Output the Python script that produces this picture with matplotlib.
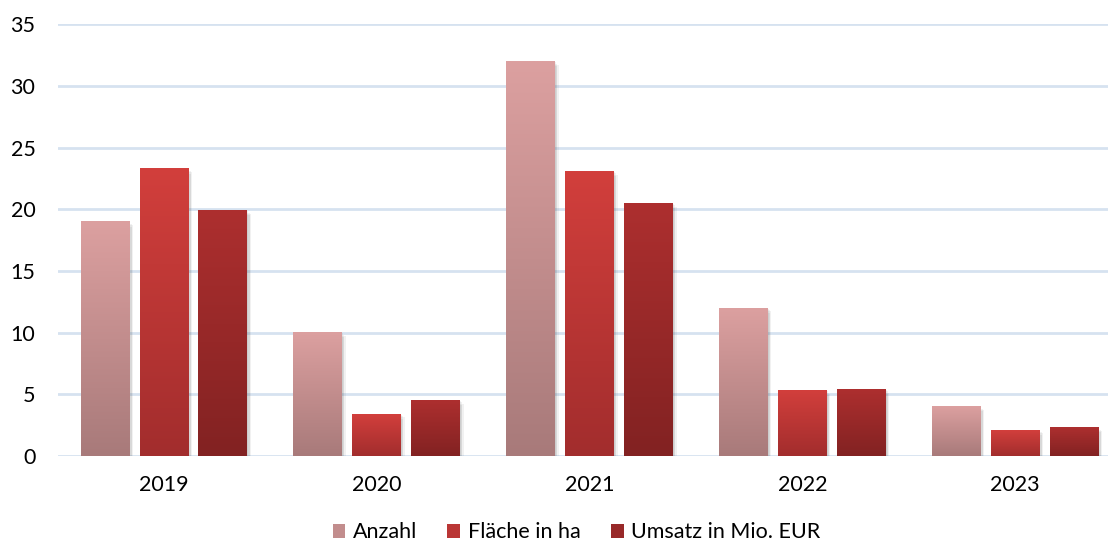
import numpy as np
import matplotlib.pyplot as plt
from matplotlib.colors import LinearSegmentedColormap, to_rgb
from matplotlib.patches import Patch
import matplotlib.patheffects as pe

plt.rcParams['font.family'] = ['Lato', 'DejaVu Sans']

years = ["2019", "2020", "2021", "2022", "2023"]
anzahl = [19, 10, 32, 12, 4]
flaeche = [23.3, 3.4, 23.1, 5.3, 2.1]
umsatz = [19.9, 4.5, 20.5, 5.4, 2.3]

series = [
    ("Anzahl", anzahl, "#dca0a0", "#a87a7a"),
    ("Fläche in ha", flaeche, "#d23f3c", "#a22d2d"),
    ("Umsatz in Mio. EUR", umsatz, "#ad2f2f", "#822222"),
]

fig, ax = plt.subplots(figsize=(11.08, 5.44), dpi=100)
fig.subplots_adjust(left=0.052, right=1.0, top=0.955, bottom=0.162)

x = np.arange(len(years))
width = 0.23
offsets = [-0.277, 0.0, 0.277]

# soft drop shadow built from a few faint offset copies
shadow = [pe.SimplePatchShadow(offset=o, alpha=0.07, shadow_rgbFace="#404040")
          for o in [(0.5, -0.5), (1.5, -1.5), (2.5, -2.5), (1.5, -3.5)]]

gradient = np.linspace(0, 1, 256).reshape(-1, 1)
handles = []
for (label, vals, top, bottom), off in zip(series, offsets):
    cmap = LinearSegmentedColormap.from_list(label, [bottom, top])
    bars = ax.bar(x + off, vals, width, color=top, zorder=2,
                  path_effects=shadow + [pe.Normal()])
    for rect in bars:
        x0, y0 = rect.get_x(), rect.get_y()
        w, h = rect.get_width(), rect.get_height()
        ax.imshow(gradient, cmap=cmap, origin="lower", aspect="auto",
                  extent=(x0, x0 + w, y0, y0 + h), zorder=3)
    mid = tuple((a + b) / 2 for a, b in zip(to_rgb(top), to_rgb(bottom)))
    handles.append(Patch(facecolor=mid, edgecolor="none", label=label))

ax.set_xlim(-0.5, 4.436)
ax.set_ylim(0, 35)
ax.set_yticks(range(0, 36, 5))
ax.set_xticks(x)
ax.set_xticklabels(years)
ax.yaxis.grid(True, color="#d6e2f0", linewidth=2, zorder=0)
ax.set_axisbelow(True)
for s in ax.spines.values():
    s.set_visible(False)
ax.tick_params(axis="both", length=0, labelsize=15.5, colors="#000000")
ax.tick_params(axis="x", pad=14)
ax.tick_params(axis="y", pad=16)

ax.legend(handles=handles, loc="upper center", bbox_to_anchor=(0.494, -0.124),
          ncol=3, frameon=False, fontsize=15.5, handlelength=0.6, handleheight=0.6,
          handletextpad=0.35, columnspacing=1.4, borderpad=0.1)

fig.savefig("out.png", dpi=100)
